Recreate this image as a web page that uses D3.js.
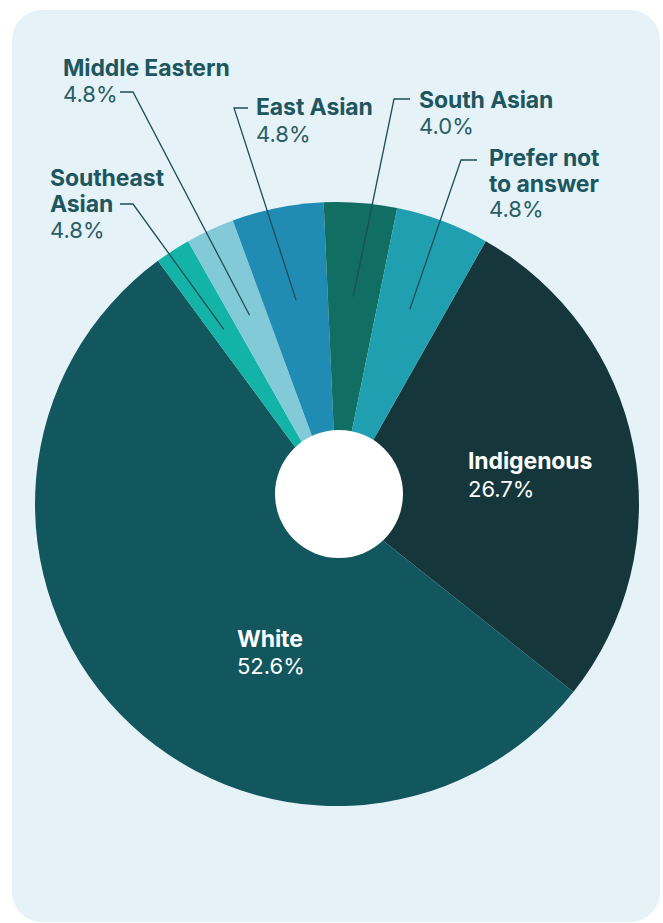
<!DOCTYPE html>
<html>
<head>
<meta charset="utf-8">
<script src="https://cdn.jsdelivr.net/npm/d3@7"></script>
<style>
  html, body { margin: 0; padding: 0; background: #ffffff; }
  svg { display: block; font-family: Inter, "Noto Sans", sans-serif; }
</style>
</head>
<body>
<svg id="chart"></svg>
<script>
// categories in drawing order (clockwise, starting at Indigenous)
let categories = ['Indigenous', 'White', 'Southeast Asian', 'Middle Eastern', 'East Asian', 'South Asian', 'Prefer not to answer'];
// slice sizes as drawn in the picture (percent)
let sliceValues = [27.5, 54.2, 1.9, 2.6, 4.9, 3.9, 5.0];
// percentages printed on the labels
let labelPercents = ['26.7%', '52.6%', '4.8%', '4.8%', '4.8%', '4.0%', '4.8%'];
let colors = ['#15373b', '#12565e', '#13b3a8', '#82cad8', '#208bb3', '#106f62', '#209fb0'];

let width = 663, height = 923;
let cx = 337, cy = 504, radius = 302;
let startDeg = 29.5;

let svg = d3.select('#chart')
    .attr('width', width)
    .attr('height', height);

// card background
svg.append('rect')
    .attr('x', 12).attr('y', 10)
    .attr('width', 648).attr('height', 912)
    .attr('rx', 30)
    .style('fill', '#e5f2f7');

let pie = d3.pie()
    .sort(null)
    .value(function (d) { return d; })
    .startAngle(startDeg * Math.PI / 180)
    .endAngle(startDeg * Math.PI / 180 + 2 * Math.PI);

let arcs = pie(sliceValues);

let arc = d3.arc().innerRadius(0).outerRadius(radius);
let pointerArc = d3.arc().innerRadius(208).outerRadius(208);

let g = svg.append('g')
    .attr('transform', 'translate(' + cx + ',' + cy + ')');

g.selectAll('path.slice')
    .data(arcs)
    .enter()
    .append('path')
    .attr('class', 'slice')
    .attr('d', arc)
    .style('fill', function (d, i) { return colors[i]; });

// white hole (sits slightly above the pie centre in the original)
g.append('circle')
    .attr('cx', 2).attr('cy', -10)
    .attr('r', 64)
    .style('fill', '#ffffff');

// label layout: text anchor x, baselines of each line, leader elbow
let labelLayout = {
    'Indigenous': {x: 468, lines: ['Indigenous'], y: [469, 497], inside: true},
    'White': {x: 237, lines: ['White'], y: [647, 674], inside: true},
    'Southeast Asian': {x: 50, lines: ['Southeast', 'Asian'], y: [186, 212, 238], elbow: [133, 204], tail: 120},
    'Middle Eastern': {x: 63, lines: ['Middle Eastern'], y: [76, 102], elbow: [133, 92], tail: 120},
    'East Asian': {x: 256, lines: ['East Asian'], y: [115, 142], elbow: [234, 108], tail: 248},
    'South Asian': {x: 419, lines: ['South Asian'], y: [108, 134], elbow: [394, 99], tail: 410},
    'Prefer not to answer': {x: 489, lines: ['Prefer not', 'to answer'], y: [166, 192, 217], elbow: [461, 160], tail: 477}
};

let outerText = '#1e5660';
let outerPct = '#2b5d66';
let lineColor = '#1f4e57';

arcs.forEach(function (d, i) {
    let name = categories[i];
    let lay = labelLayout[name];

    if (!lay.inside) {
        let c = pointerArc.centroid(d);
        let end = [cx + c[0], cy + c[1]];
        svg.append('polyline')
            .attr('points', [[lay.tail, lay.elbow[1]], lay.elbow, end].map(function (p) { return p.join(','); }).join(' '))
            .style('fill', 'none')
            .style('stroke', lineColor)
            .style('stroke-width', 1.3);
    }

    let nameColor = lay.inside ? '#ffffff' : outerText;
    let pctColor = lay.inside ? '#ffffff' : outerPct;

    lay.lines.forEach(function (line, k) {
        svg.append('text')
            .attr('x', lay.x)
            .attr('y', lay.y[k])
            .style('font-size', '23px')
            .style('font-weight', 700)
            .style('letter-spacing', '-0.1px')
            .style('fill', nameColor)
            .text(line);
    });

    svg.append('text')
        .attr('x', lay.x)
        .attr('y', lay.y[lay.lines.length])
        .style('font-size', '22px')
        .style('font-weight', 400)
        .style('fill', pctColor)
        .text(labelPercents[i]);
});
</script>
</body>
</html>
